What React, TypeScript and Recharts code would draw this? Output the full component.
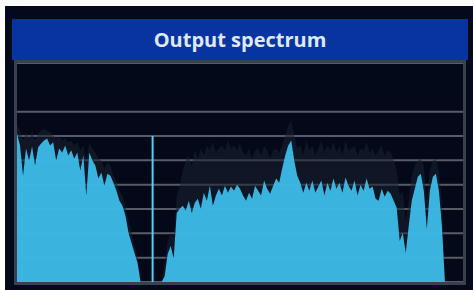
import React from 'react';
import { AreaChart, Area, XAxis, YAxis, CartesianGrid, ReferenceLine } from 'recharts';

// spectrum levels in dB, one value per frequency bin
const liveLevel = [
  -28.9, -33.9, -46.3, -35.1, -40.1, -34.3, -42.1, -34.7, -33.1, -31.8,
  -31.0, -33.9, -32.6, -40.1, -35.1, -36.8, -33.9, -38.0, -35.9, -39.3,
  -36.8, -44.2, -38.0, -54.5, -36.8, -40.1, -42.1, -47.5, -45.0, -50.4,
  -45.5, -46.3, -49.2, -52.5, -56.6, -58.7, -62.8, -69.8, -74.0, -78.1,
  -82.2, -90, -90, -90, -90, -90, -90, -90, -90,
  -87.6, -78.5, -75.2, -80.2, -61.6, -59.9, -58.7, -60.7, -56.6, -61.6,
  -57.4, -55.8, -59.9, -53.3, -56.6, -50.4, -58.7, -54.5, -51.7, -54.5,
  -50.4, -53.3, -50.8, -52.5, -50.0, -51.7, -54.5, -56.6, -53.3, -55.8,
  -50.4, -52.5, -54.5, -48.3, -51.7, -53.7, -50.4, -47.5, -49.2, -43.4,
  -38.0, -33.9, -31.8, -40.1, -46.3, -49.2, -53.3, -49.2, -52.5, -48.3,
  -53.3, -50.8, -48.3, -54.5, -49.2, -52.5, -47.5, -51.7, -49.2, -53.3,
  -47.1, -50.4, -52.5, -48.3, -54.5, -50.0, -52.5, -47.5, -51.7, -50.8,
  -55.8, -56.6, -51.7, -55.0, -52.5, -53.7, -56.6, -59.5, -73.1, -69.8,
  -78.1, -66.9, -56.6, -51.7, -46.7, -45.5, -52.5, -68.2, -52.5, -46.7,
  -45.5, -52.5, -66.9,
  -90, -90, -90, -90, -90, -90, -90,
];

const maxHoldLevel = [
  -25.6, -27.7, -31.8, -28.5, -31.0, -27.7, -31.8, -28.9, -27.7, -26.9,
  -27.7, -28.5, -29.8, -31.0, -30.2, -31.8, -31.0, -32.6, -31.8, -33.9,
  -32.6, -35.9, -33.9, -40.1, -33.1, -35.1, -36.8, -39.3, -40.1, -43.4,
  -40.9, -42.1, -46.3, -48.3, -52.5, -54.5, -58.7, -64.9, -69.0, -75.2,
  -79.3, -90, -90, -90, -90, -90, -90, -90, -90,
  -82.2, -73.1, -69.8, -72.3, -54.5, -50.4, -44.2, -40.1, -38.0, -42.1,
  -35.9, -39.3, -35.1, -38.0, -33.9, -35.9, -32.6, -36.8, -35.1, -33.9,
  -35.9, -31.8, -35.1, -33.9, -35.9, -33.1, -36.8, -38.0, -35.1, -39.3,
  -35.9, -35.1, -38.0, -33.9, -35.9, -39.3, -35.9, -35.1, -36.8, -33.9,
  -29.8, -25.6, -23.6, -29.8, -35.1, -33.9, -38.0, -31.8, -35.9, -33.9,
  -38.0, -35.1, -31.8, -36.8, -33.9, -35.9, -32.6, -36.8, -33.9, -38.0,
  -31.8, -35.9, -35.1, -33.9, -38.0, -35.1, -35.9, -32.6, -36.8, -35.1,
  -38.0, -35.9, -33.9, -38.0, -35.9, -36.8, -40.1, -44.2, -54.5, -52.5,
  -64.9, -56.6, -46.3, -42.1, -40.1, -39.3, -42.1, -56.6, -44.2, -40.1,
  -39.3, -44.2, -56.6,
  -90, -90, -90, -90, -90, -90, -90,
];

const levelTicks = [-90, -80, -70, -60, -50, -40, -30, -20, -10, 0];

// marker line
const markerBin = 45;
const markerLevel = -30;

const data = liveLevel.map((v, i) => ({ bin: i, live: v, max: maxHoldLevel[i] }));

const App: React.FC = () => {
  return (
    <div style={{ position: 'fixed', left: 0, top: 0, width: 473, height: 290, background: '#ffffff' }}>
      <div style={{ position: 'absolute', left: 5, top: 6, right: 0, bottom: 0, background: '#040a1b' }} />
      <div
        style={{
          position: 'absolute',
          left: 12,
          top: 19,
          width: 456,
          height: 41,
          background: '#0634a0',
          color: '#dfe8f6',
          fontFamily: '"Open Sans", sans-serif',
          fontWeight: 700,
          fontSize: 20,
          lineHeight: '41px',
          textAlign: 'center',
        }}
      >
        Output spectrum
      </div>
      <div
        style={{
          position: 'absolute',
          left: 14,
          top: 60,
          width: 452,
          height: 225,
          border: '3px solid #3b404e',
          boxSizing: 'border-box',
          background: '#030919',
        }}
      />
      <div style={{ position: 'absolute', left: 17, top: 63 }}>
        <AreaChart width={446} height={219} data={data} margin={{ top: 0, right: 0, bottom: 0, left: 0 }}>
          <CartesianGrid vertical={false} stroke="#585c66" strokeWidth={2} />
          <XAxis dataKey="bin" type="number" domain={[0, 148]} hide />
          <YAxis domain={[-90, 0]} ticks={levelTicks} hide />
          <Area
            type="linear"
            dataKey="max"
            baseValue={-90}
            stroke="none"
            fill="#1a2333"
            fillOpacity={0.55}
            isAnimationActive={false}
          />
          <Area
            type="linear"
            dataKey="live"
            baseValue={-90}
            stroke="none"
            fill="#3ebdeb"
            fillOpacity={0.94}
            isAnimationActive={false}
          />
          <ReferenceLine
            segment={[{ x: markerBin, y: -90 }, { x: markerBin, y: markerLevel }]}
            stroke="#5ccaf2"
            strokeWidth={2}
          />
        </AreaChart>
      </div>
    </div>
  );
};

export default App;
